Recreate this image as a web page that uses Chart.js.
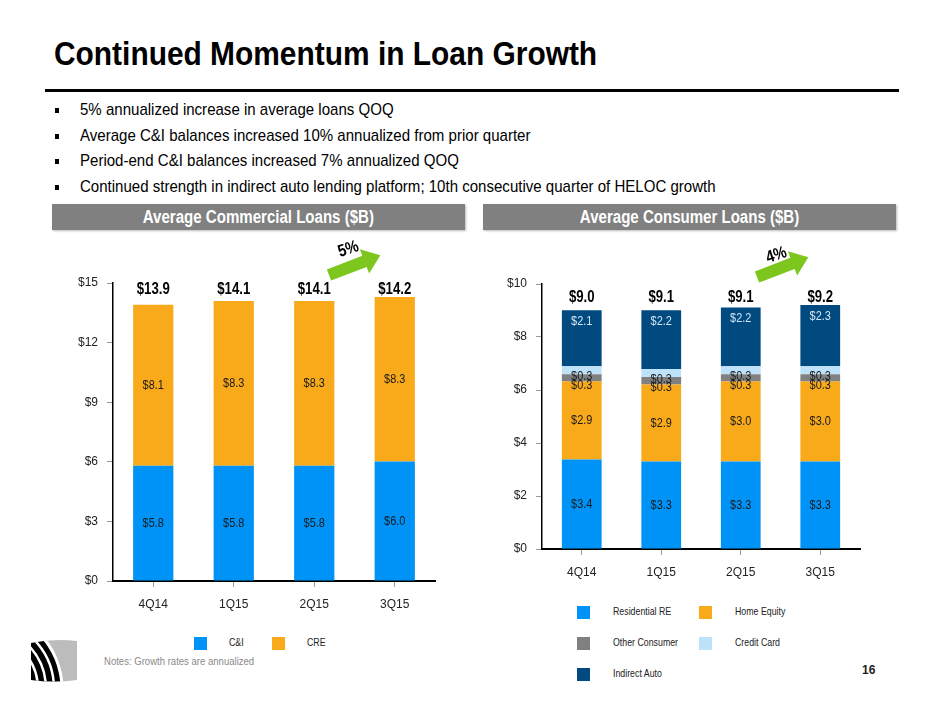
<!DOCTYPE html>
<html>
<head>
<meta charset="utf-8">
<script src="https://cdn.jsdelivr.net/npm/chart.js@4"></script>
<style>
  body { margin:0; width:940px; height:705px; background:#fff; position:relative; overflow:hidden;
         font-family:'Liberation Sans', Arial, sans-serif; }
  /* sem fonte "narrow" instalada: comprime na horizontal */
  .n { display:inline-block; white-space:nowrap; transform-origin:0 50%; }
  #titulo { position:absolute; left:54px; top:36px; font-size:32.5px; font-weight:bold; color:#000; }
  #titulo .n { transform:scaleX(0.92); }
  #linha { position:absolute; left:45px; top:89px; width:854px; height:3px; background:#000; }
  .bullet { position:absolute; left:55px; font-size:17px; color:#000; height:20px; }
  .bullet .b { position:absolute; left:0; top:8px; width:4px; height:5px; background:#000; }
  .bullet .n { position:absolute; left:25px; top:0; line-height:20px; transform:scaleX(0.885); }
  .faixa { position:absolute; top:204px; height:26px; background:#808080; color:#fff; font-weight:bold;
           font-size:17.5px; text-align:center; line-height:26px; box-shadow:1px 1px 2px #bbb; }
  .faixa .n { transform:scaleX(0.86); transform-origin:50% 50%; }
  canvas { position:absolute; }
  .leg { position:absolute; font-size:11px; color:#222; }
  .leg i { position:absolute; left:0; top:0; width:13px; height:13px; }
  .leg .n { position:absolute; top:-1px; transform:scaleX(0.8); }
  #nota { position:absolute; left:104px; top:655px; font-size:11.5px; color:#8a8a8a; }
  #nota .n { transform:scaleX(0.83); }
  #pagina { position:absolute; left:862px; top:663px; font-size:12px; font-weight:bold; color:#222; }
  svg { position:absolute; left:0; top:0; }
</style>
</head>
<body>
<div id="titulo"><span class="n">Continued Momentum in Loan Growth</span></div>
<div id="linha"></div>

<div class="bullet" style="top:100px"><span class="b"></span><span class="n">5% annualized increase in average loans QOQ</span></div>
<div class="bullet" style="top:126px"><span class="b"></span><span class="n">Average C&amp;I balances increased 10% annualized from prior quarter</span></div>
<div class="bullet" style="top:151px"><span class="b"></span><span class="n">Period-end C&amp;I balances increased 7% annualized QOQ</span></div>
<div class="bullet" style="top:177px"><span class="b"></span><span class="n">Continued strength in indirect auto lending platform; 10th consecutive quarter of HELOC growth</span></div>

<div class="faixa" style="left:52px;width:413px"><span class="n">Average Commercial Loans ($B)</span></div>
<div class="faixa" style="left:483px;width:413px"><span class="n">Average Consumer Loans ($B)</span></div>

<canvas id="graficoComercial" width="390" height="372" style="left:60px;top:250px"></canvas>
<canvas id="graficoConsumo" width="380" height="335" style="left:490px;top:255px"></canvas>

<div id="legComercial"></div>
<div id="legConsumo"></div>

<div id="nota"><span class="n">Notes: Growth rates are annualized</span></div>
<div id="pagina">16</div>

<svg width="940" height="705">
  <!-- setas verdes -->
  <g transform="translate(329,275) rotate(-21)">
    <polygon points="0,-6 38,-6 38,-13 55,0 38,13 38,6 0,6" fill="#7CC61E"/>
  </g>
  <text x="348" y="254" transform="rotate(-18 348 248) translate(348 0) scale(0.85 1) translate(-348 0)" text-anchor="middle"
        font-family="Liberation Sans, Arial, sans-serif" font-weight="bold" font-size="17">5%</text>
  <g transform="translate(757,277) rotate(-21)">
    <polygon points="0,-6 38,-6 38,-13 55,0 38,13 38,6 0,6" fill="#7CC61E"/>
  </g>
  <text x="776" y="260" transform="rotate(-18 776 254) translate(776 0) scale(0.85 1) translate(-776 0)" text-anchor="middle"
        font-family="Liberation Sans, Arial, sans-serif" font-weight="bold" font-size="17">4%</text>
  <!-- logo -->
  <clipPath id="clipLogo"><path d="M31,643 Q54,638 77,641 L77,680 Q54,683 31,680 Z"/></clipPath>
  <g clip-path="url(#clipLogo)">
    <rect x="28" y="636" width="52" height="50" fill="#bcbcbc"/>
    <circle cx="-17" cy="689" r="80.5" fill="#fff"/>
    <circle cx="-17" cy="689" r="77.5" fill="#000"/>
    <circle cx="-17" cy="689" r="71" fill="none" stroke="#fff" stroke-width="2.5"/>
    <circle cx="-17" cy="689" r="63" fill="none" stroke="#fff" stroke-width="2.5"/>
    <circle cx="-17" cy="689" r="55" fill="none" stroke="#fff" stroke-width="2.5"/>
  </g>
</svg>

<script>
// dados (US$ bilhões)
const trimestres = ["4Q14", "1Q15", "2Q15", "3Q15"];

const cAndI = [5.8, 5.8, 5.8, 6.02];
const cre = [8.1, 8.3, 8.3, 8.28];
const totaisComercial = [13.9, 14.1, 14.1, 14.2];
const ticksComercial = [0, 3, 6, 9, 12, 15];

const residencialRE = [3.38, 3.30, 3.30, 3.30];
const homeEquity = [2.94, 2.91, 3.02, 3.02];
const outrosConsumo = [0.27, 0.28, 0.27, 0.27];
const cartaoCredito = [0.31, 0.30, 0.31, 0.31];
const autoIndireto = [2.11, 2.22, 2.21, 2.31];
const totaisConsumo = [9.0, 9.1, 9.1, 9.2];
const ticksConsumo = [0, 2, 4, 6, 8, 10];

const FONTE = "'Liberation Sans',Arial,sans-serif";
const AZUL = "#0093F7", LARANJA = "#F9AA1B", CINZA = "#808080", AZUL_CLARO = "#BEE2FA", MARINHO = "#004A80";

// legendas em HTML
function montarLegenda(id, itens, colunasX, y0, passoY, gapTexto) {
  let html = "";
  itens.forEach((it, i) => {
    const col = i % colunasX.length, lin = Math.floor(i / colunasX.length);
    html += `<div class="leg" style="left:${colunasX[col]}px;top:${y0 + lin * passoY}px">` +
            `<i style="background:${it[1]}"></i><span class="n" style="left:${gapTexto}px">${it[0]}</span></div>`;
  });
  document.getElementById(id).innerHTML = html;
}
montarLegenda("legComercial", [["C&amp;I", AZUL], ["CRE", LARANJA]], [194, 272], 637, 0, 35);
montarLegenda("legConsumo", [["Residential RE", AZUL], ["Home Equity", LARANJA],
  ["Other Consumer", CINZA], ["Credit Card", AZUL_CLARO], ["Indirect Auto", MARINHO]], [577, 699], 606, 31, 36);

function textoEstreito(ctx, txt, x, y, escala) {
  ctx.save();
  ctx.translate(x, y);
  ctx.scale(escala, 1);
  ctx.fillText(txt, 0, 0);
  ctx.restore();
}

// plugin: rótulos dos segmentos e totais
const rotulos = {
  id: "rotulos",
  afterDatasetsDraw(chart, args, opts) {
    const ctx = chart.ctx;
    ctx.save();
    ctx.textAlign = "center";
    ctx.textBaseline = "middle";
    ctx.font = "13px " + FONTE;
    chart.data.datasets.forEach((ds, i) => {
      const meta = chart.getDatasetMeta(i);
      ctx.fillStyle = ds.corRotulo || "#1a1a1a";
      meta.data.forEach((barra, j) => {
        let y = (barra.y + barra.base) / 2 + (ds.deslocRotulo || 0);
        if (ds.rotuloNoTopo) y = barra.y + ds.rotuloNoTopo;
        textoEstreito(ctx, "$" + ds.data[j].toFixed(1), barra.x, y, 0.84);
      });
    });
    // totais alinhados numa linha acima das barras
    ctx.fillStyle = "#000";
    ctx.font = "bold 16.5px " + FONTE;
    const meta0 = chart.getDatasetMeta(0);
    opts.totais.forEach((t, j) => {
      textoEstreito(ctx, "$" + t.toFixed(1), meta0.data[j].x, chart.chartArea.top + opts.yTotal, 0.8);
    });
    ctx.restore();
  }
};

function opcoesEixos(maximo, passo, larguraY) {
  return {
    x: {
      stacked: true,
      border: { color: "#000", width: 2 },
      grid: { offset: false, drawOnChartArea: false, drawTicks: true, tickLength: 6, color: "#999" },
      ticks: { padding: 10, color: "#222", font: { size: 12, family: FONTE } },
      afterFit: s => { s.height = 41; }
    },
    y: {
      stacked: true, min: 0, max: maximo,
      border: { color: "#000", width: 1.5 },
      grid: { drawOnChartArea: false, drawTicks: true, tickLength: 6, color: "#999" },
      ticks: { stepSize: passo, padding: 9, color: "#222", font: { size: 12, family: FONTE },
               callback: v => "$" + v },
      afterFit: s => { s.width = larguraY; }
    }
  };
}

Chart.defaults.animation = false;

new Chart(document.getElementById("graficoComercial").getContext("2d"), {
  type: "bar",
  data: {
    labels: trimestres,
    datasets: [
      { label: "C&I", data: cAndI, backgroundColor: AZUL, categoryPercentage: 0.5, barPercentage: 1 },
      { label: "CRE", data: cre, backgroundColor: LARANJA, categoryPercentage: 0.5, barPercentage: 1 }
    ]
  },
  options: {
    responsive: false,
    layout: { padding: { top: 33, right: 15, bottom: 0, left: 0 } },
    scales: opcoesEixos(ticksComercial[ticksComercial.length - 1], ticksComercial[1], 53),
    plugins: {
      legend: { display: false },
      tooltip: { enabled: false },
      rotulos: { totais: totaisComercial, yTotal: 6 }
    }
  },
  plugins: [rotulos]
});

new Chart(document.getElementById("graficoConsumo").getContext("2d"), {
  type: "bar",
  data: {
    labels: trimestres,
    datasets: [
      { label: "Residential RE", data: residencialRE, backgroundColor: AZUL, categoryPercentage: 0.5, barPercentage: 1 },
      { label: "Home Equity", data: homeEquity, backgroundColor: LARANJA, categoryPercentage: 0.5, barPercentage: 1 },
      { label: "Other Consumer", data: outrosConsumo, backgroundColor: CINZA, categoryPercentage: 0.5, barPercentage: 1, deslocRotulo: 7 },
      { label: "Credit Card", data: cartaoCredito, backgroundColor: AZUL_CLARO, categoryPercentage: 0.5, barPercentage: 1, deslocRotulo: 6 },
      { label: "Indirect Auto", data: autoIndireto, backgroundColor: MARINHO, categoryPercentage: 0.5, barPercentage: 1,
        rotuloNoTopo: 11, corRotulo: "#d5e6f6" }
    ]
  },
  options: {
    responsive: false,
    layout: { padding: { top: 29, right: 10, bottom: 0, left: 0 } },
    scales: opcoesEixos(ticksConsumo[ticksConsumo.length - 1], ticksConsumo[1], 52),
    plugins: {
      legend: { display: false },
      tooltip: { enabled: false },
      rotulos: { totais: totaisConsumo, yTotal: 13 }
    }
  },
  plugins: [rotulos]
});
</script>
</body>
</html>
